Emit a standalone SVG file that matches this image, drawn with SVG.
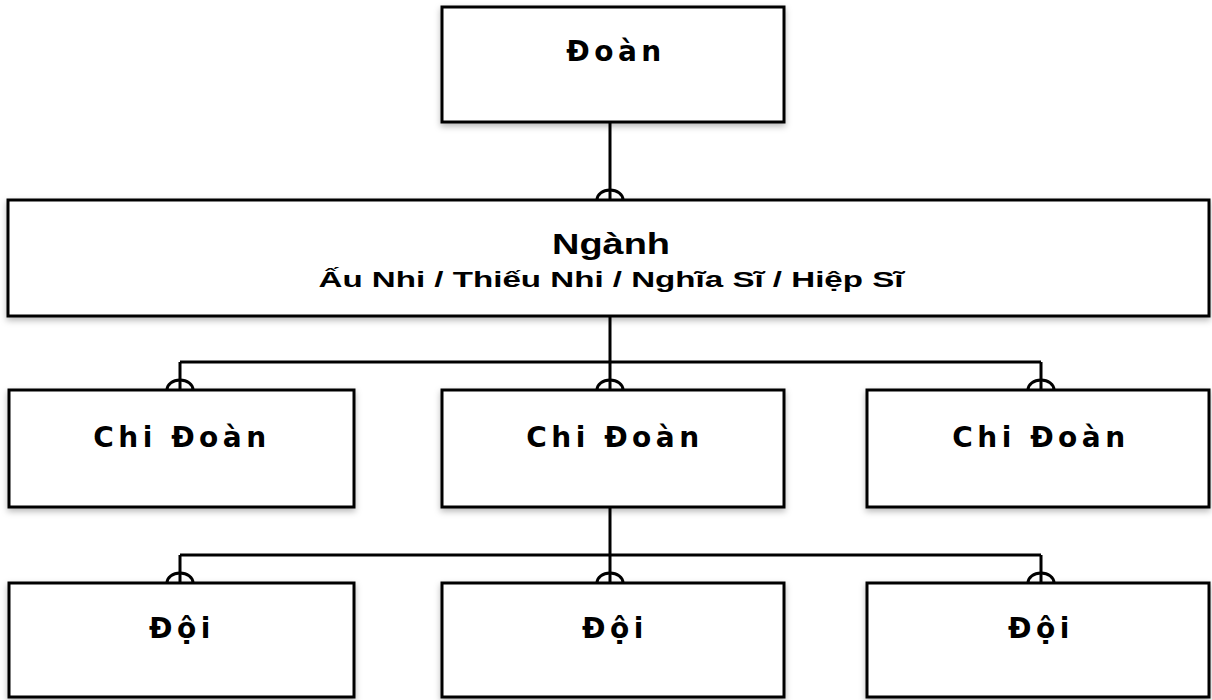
<svg xmlns="http://www.w3.org/2000/svg" width="1212" height="700" viewBox="0 0 1212 700">
  <style>
    .box { fill: #ffffff; stroke: #000000; stroke-width: 3; filter: url(#shadow); }
    .wire { fill: none; stroke: #000000; stroke-width: 3; }
    .lbl { font-family: "DejaVu Sans", Verdana, sans-serif; font-weight: bold; font-size: 28px; letter-spacing: 4.5px; fill: #000000; text-anchor: middle; }
    .lbl2 { font-family: "Liberation Sans", Arial, sans-serif; font-weight: bold; fill: #000000; text-anchor: middle; }
  </style>
  <defs>
    <filter id="shadow" x="-5%" y="-10%" width="110%" height="130%">
      <feDropShadow dx="0" dy="3" stdDeviation="3" flood-color="#000000" flood-opacity="0.28"/>
    </filter>
  </defs>

  <!-- connectors: straight wires ending in a small dome on the child box -->
  <g id="connectors">
    <path class="wire" d="M610 123 V200"/>
    <path class="wire" d="M597 200 A13 10 0 0 1 623 200"/>

    <path class="wire" d="M610 316 V390 M180 362 H1041 M180 362 V390 M1041 362 V390"/>
    <path class="wire" d="M167 390 A13 10 0 0 1 193 390 M597 390 A13 10 0 0 1 623 390 M1028 390 A13 10 0 0 1 1054 390"/>

    <path class="wire" d="M610 507 V583 M180 555 H1041 M180 555 V583 M1041 555 V583"/>
    <path class="wire" d="M167 583 A13 10 0 0 1 193 583 M597 583 A13 10 0 0 1 623 583 M1028 583 A13 10 0 0 1 1054 583"/>
  </g>

  <g id="doan">
    <rect class="box" x="442" y="7" width="342" height="115"/>
    <text class="lbl" x="616" y="61">Đoàn</text>
  </g>

  <g id="nganh">
    <rect class="box" x="8" y="200" width="1201" height="116"/>
    <text class="lbl2" x="611" y="254" font-size="29" textLength="118" lengthAdjust="spacingAndGlyphs">Ngành</text>
    <text class="lbl2" x="611" y="287" font-size="22" textLength="585" lengthAdjust="spacingAndGlyphs">Ấu Nhi / Thiếu Nhi / Nghĩa Sĩ / Hiệp Sĩ</text>
  </g>

  <g id="chidoan-1">
    <rect class="box" x="9" y="390" width="345" height="117"/>
    <text class="lbl" x="182" y="447">Chi Đoàn</text>
  </g>
  <g id="chidoan-2">
    <rect class="box" x="442" y="390" width="342" height="117"/>
    <text class="lbl" x="615" y="447">Chi Đoàn</text>
  </g>
  <g id="chidoan-3">
    <rect class="box" x="867" y="390" width="342" height="117"/>
    <text class="lbl" x="1041" y="447">Chi Đoàn</text>
  </g>

  <g id="doi-1">
    <rect class="box" x="9" y="583" width="345" height="114"/>
    <text class="lbl" x="182" y="638">Đội</text>
  </g>
  <g id="doi-2">
    <rect class="box" x="442" y="583" width="342" height="114"/>
    <text class="lbl" x="615" y="638">Đội</text>
  </g>
  <g id="doi-3">
    <rect class="box" x="867" y="583" width="342" height="114"/>
    <text class="lbl" x="1041" y="638">Đội</text>
  </g>
</svg>
